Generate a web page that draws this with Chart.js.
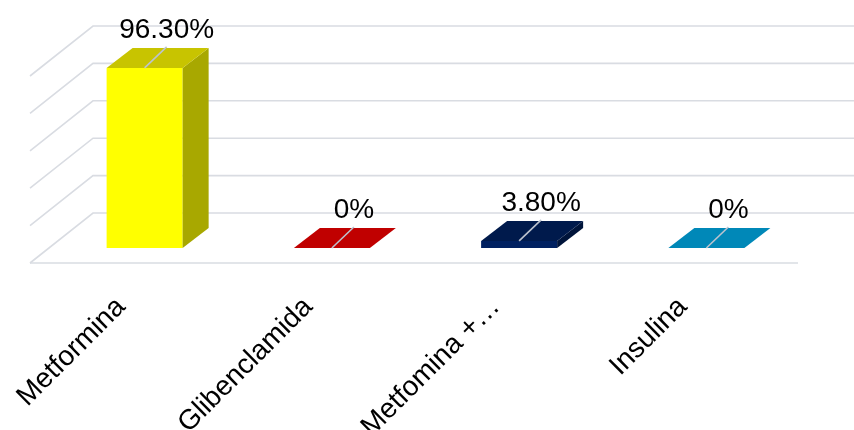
<!DOCTYPE html>
<html>
<head>
<meta charset="utf-8">
<script src="https://cdn.jsdelivr.net/npm/chart.js@4.4.1/dist/chart.umd.min.js"></script>
<style>
  html, body { margin: 0; padding: 0; background: #fff; }
  #wrap { width: 854px; height: 430px; }
</style>
</head>
<body>
<div id="wrap"><canvas id="myChart"></canvas></div>
<script>
const labels = ["Metformina", "Glibenclamida", "Metfomina +…", "Insulina"];
const values = [96.3, 0, 3.8, 0];
const valueLabels = ["96.30%", "0%", "3.80%", "0%"];
const frontColors = ["#ffff00", "#c00000", "#002060", "#0088b8"];
const topColors = ["#c8c400", "#c00000", "#001a4c", "#0088b8"];
const sideColors = ["#a8a800", "#8a0000", "#00143a", "#006a90"];

const FONT = "'Liberation Sans', Arial, sans-serif";
// depth of each bar, and of the whole floor
const BAR_DX = 26, BAR_DY = 20;
const FLOOR_DX = 63, FLOOR_DY = 50, FRONT_DY = 15;

const box3d = {
  id: 'box3d',
  beforeDatasetsDraw(chart) {
    const ctx = chart.ctx;
    const y = chart.scales.y;
    const area = chart.chartArea;
    const fx = area.left - 21;
    ctx.save();
    ctx.strokeStyle = '#d9dce2';
    ctx.lineWidth = 1.6;
    y.ticks.forEach(t => {
      const py = y.getPixelForValue(t.value);
      ctx.beginPath();
      ctx.moveTo(fx, py + FRONT_DY);
      ctx.lineTo(fx + FLOOR_DX, py + FRONT_DY - FLOOR_DY);
      ctx.lineTo(chart.width, py + FRONT_DY - FLOOR_DY);
      ctx.stroke();
    });
    // front edge of the floor
    const py0 = y.getPixelForValue(0) + FRONT_DY;
    ctx.beginPath();
    ctx.moveTo(fx, py0);
    ctx.lineTo(area.right - 2, py0);
    ctx.stroke();
    ctx.restore();
  },
  afterDatasetsDraw(chart) {
    const ctx = chart.ctx;
    const meta = chart.getDatasetMeta(0);
    ctx.save();
    meta.data.forEach((bar, i) => {
      const p = bar.getProps(['x', 'y', 'base', 'width'], true);
      const xl = p.x - p.width / 2, xr = p.x + p.width / 2;
      const top = Math.min(p.y, p.base), bottom = p.base;
      // side face
      if (bottom - top > 0.5) {
        ctx.fillStyle = sideColors[i];
        ctx.beginPath();
        ctx.moveTo(xr, top);
        ctx.lineTo(xr + BAR_DX, top - BAR_DY);
        ctx.lineTo(xr + BAR_DX, bottom - BAR_DY);
        ctx.lineTo(xr, bottom);
        ctx.closePath();
        ctx.fill();
      }
      // top face
      ctx.fillStyle = topColors[i];
      ctx.beginPath();
      ctx.moveTo(xl, top);
      ctx.lineTo(xr, top);
      ctx.lineTo(xr + BAR_DX, top - BAR_DY);
      ctx.lineTo(xl + BAR_DX, top - BAR_DY);
      ctx.closePath();
      ctx.fill();
      // leader line and value label
      const lx = p.x + 22, ly = top - 21;
      ctx.strokeStyle = '#bcc3ce';
      ctx.lineWidth = 1.6;
      ctx.beginPath();
      ctx.moveTo(p.x, top);
      ctx.lineTo(lx, ly);
      ctx.stroke();
      ctx.fillStyle = '#000';
      ctx.font = '28px ' + FONT;
      ctx.textAlign = 'center';
      ctx.textBaseline = 'alphabetic';
      ctx.fillText(valueLabels[i], lx, top - 30);
    });
    ctx.restore();
  },
  afterDraw(chart) {
    const ctx = chart.ctx;
    const x = chart.scales.x;
    const y0 = chart.scales.y.getPixelForValue(0);
    ctx.save();
    ctx.fillStyle = '#000';
    ctx.font = '28px ' + FONT;
    ctx.textAlign = 'right';
    ctx.textBaseline = 'alphabetic';
    labels.forEach((lab, i) => {
      ctx.save();
      ctx.translate(x.getPixelForValue(i) - 18, y0 + 60);
      ctx.rotate(-Math.PI / 4);
      ctx.fillText(lab, 0, 0);
      ctx.restore();
    });
    ctx.restore();
  }
};

const data = {
  labels: labels,
  datasets: [{
    data: values,
    backgroundColor: frontColors,
    borderWidth: 0,
    categoryPercentage: 1,
    barPercentage: 0.406
  }]
};

const config = {
  type: 'bar',
  data: data,
  options: {
    responsive: true,
    maintainAspectRatio: false,
    animation: false,
    layout: {
      padding: { left: 51, right: 54, top: 61, bottom: 182 }
    },
    plugins: {
      legend: { display: false },
      tooltip: { enabled: false }
    },
    scales: {
      x: { display: false },
      y: {
        display: false,
        min: 0,
        max: 100,
        ticks: { stepSize: 20 }
      }
    }
  },
  plugins: [box3d]
};

const myChart = new Chart(document.getElementById('myChart'), config);
</script>
</body>
</html>
